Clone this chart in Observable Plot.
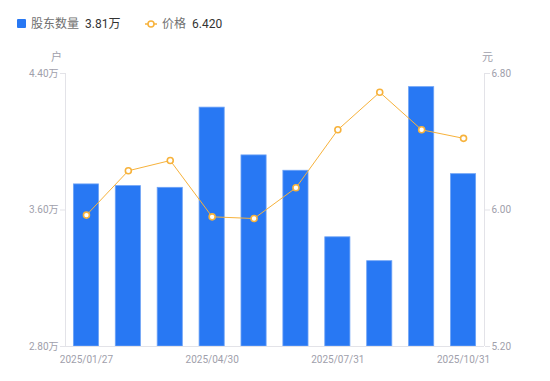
<!DOCTYPE html>
<html>
<head>
<meta charset="utf-8">
<script src="https://cdn.jsdelivr.net/npm/d3@7"></script>
<script src="https://cdn.jsdelivr.net/npm/@observablehq/plot@0.6"></script>
<style>
  body { margin: 0; background: #fff; font-family: Roboto, "Noto Sans CJK SC", sans-serif; }
  #wrap { position: relative; width: 550px; height: 381px; }
  #legend { position: relative; height: 45px; font-size: 12px; }
  .lg { position: absolute; top: 16px; white-space: nowrap; line-height: 16px; }
  .sw { display: inline-block; vertical-align: middle; }
  .name { color: #707070; }
  .val { color: #333; margin-left: 6px; }
</style>
</head>
<body>
<div id="wrap">
  <div id="legend"></div>
  <div id="chart"></div>
</div>
<script>
const dates = ["2025/01/27","2025/02/28","2025/03/31","2025/04/30","2025/05/30","2025/06/30","2025/07/31","2025/08/29","2025/09/30","2025/10/31"];
const holders = [3.75, 3.74, 3.73, 4.20, 3.92, 3.83, 3.44, 3.30, 4.32, 3.81]; // 万户
const prices = [5.97, 6.23, 6.29, 5.96, 5.95, 6.13, 6.47, 6.69, 6.47, 6.42]; // 元
const xTickLabels = ["2025/01/27","2025/04/30","2025/07/31","2025/10/31"];
const leftTicks = [2.80, 3.60, 4.40];
const rightTicks = [5.20, 6.00, 6.80];
const seriesNames = ["股东数量", "价格"];
const legendValues = ["3.81万", "6.420"];

const blue = "#2878f3";
const orange = "#f7b23b";
const axisGray = "#e3e3e8";
const textGray = "#a0a0ab";

// map price domain [5.2, 6.8] onto holders domain [2.8, 4.4]
const pMin = rightTicks[0], pMax = rightTicks[2], hMin = leftTicks[0], hMax = leftTicks[2];
const p2h = p => hMin + (p - pMin) * (hMax - hMin) / (pMax - pMin);
const h2p = h => pMin + (h - hMin) * (pMax - pMin) / (hMax - hMin);

const data = dates.map((d, i) => ({date: d, holders: holders[i], price: prices[i]}));

// legend
const legend = document.getElementById("legend");
legend.innerHTML = `
  <div class="lg" style="left:17px"><span class="sw" style="width:9px;height:9px;background:${blue};border-radius:1px;margin-right:5px;margin-top:-2px"></span><span class="name">${seriesNames[0]}</span><span class="val">${legendValues[0]}</span></div>
  <div class="lg" style="left:145px"><svg class="sw" width="12" height="10" style="margin-right:5px;margin-top:-2px"><line x1="0" y1="5" x2="12" y2="5" stroke="${orange}" stroke-width="1.5"/><circle cx="6" cy="5" r="3" fill="#fff" stroke="${orange}" stroke-width="1.5"/></svg><span class="name">${seriesNames[1]}</span><span class="val">${legendValues[1]}</span></div>
`;

const axisLines = (index, scales, values, dims) => {
  const {width, height, marginLeft, marginRight, marginTop, marginBottom} = dims;
  const g = d3.create("svg:g").attr("stroke", axisGray).attr("stroke-width", 1);
  g.append("line").attr("x1", marginLeft + 0.5).attr("x2", marginLeft + 0.5).attr("y1", marginTop).attr("y2", height - marginBottom);
  g.append("line").attr("x1", width - marginRight + 0.5).attr("x2", width - marginRight + 0.5).attr("y1", marginTop).attr("y2", height - marginBottom);
  g.append("line").attr("x1", marginLeft).attr("x2", width - marginRight).attr("y1", height - marginBottom + 0.5).attr("y2", height - marginBottom + 0.5);
  return g.node();
};

const chart = Plot.plot({
  width: 550,
  height: 336,
  marginTop: 28,
  marginBottom: 35,
  marginLeft: 65,
  marginRight: 66,
  style: {fontFamily: 'Roboto, "Noto Sans CJK SC", sans-serif', fontSize: "10px", background: "#fff"},
  x: {type: "band", domain: dates, paddingInner: 0.4, paddingOuter: 0.2, round: false, axis: null, label: null},
  y: {domain: [hMin, hMax], axis: null, label: null},
  marks: [
    Plot.barY(data, {x: "date", y1: hMin, y2: "holders", fill: blue, stroke: "#6ea3f6", strokeWidth: 0.8}),
    axisLines,
    Plot.axisY({anchor: "left", label: null, ticks: leftTicks, tickFormat: d => d.toFixed(2) + "万", tickSize: 5, tickPadding: 2, stroke: axisGray, color: textGray}),
    Plot.axisY({anchor: "right", label: null, ticks: leftTicks, tickFormat: d => h2p(d).toFixed(2), tickSize: 5, tickPadding: 2, stroke: axisGray, color: textGray}),
    Plot.axisX({anchor: "bottom", label: null, ticks: xTickLabels, tickSize: 0, tickPadding: 9, color: textGray}),
    Plot.text(["户"], {frameAnchor: "top-left", textAnchor: "middle", lineAnchor: "middle", dx: -9, dy: -16, fill: textGray, fontSize: 11}),
    Plot.text(["元"], {frameAnchor: "top-right", textAnchor: "middle", lineAnchor: "middle", dx: 3, dy: -16, fill: textGray, fontSize: 11}),
    Plot.line(data, {x: "date", y: d => p2h(d.price), stroke: orange, strokeWidth: 1}),
    Plot.dot(data, {x: "date", y: d => p2h(d.price), r: 3, fill: "#fff", stroke: orange, strokeWidth: 1.6})
  ]
});
document.getElementById("chart").appendChild(chart);
</script>
</body>
</html>
